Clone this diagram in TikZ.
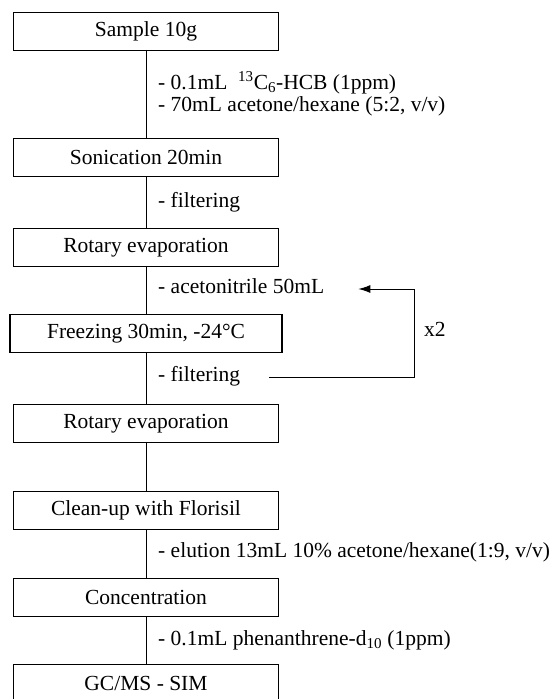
\documentclass[tikz,border=0pt]{standalone}
\usepackage{fontspec}
\setmainfont{Liberation Serif}
\usetikzlibrary{arrows.meta,positioning}

\begin{document}
\begin{tikzpicture}[x=1pt, y=-1pt, node distance=49pt,
    every node/.style={font=\fontsize{21.5}{24}\selectfont},
    stepbox/.style={draw, line width=1.1pt, minimum width=265pt, minimum height=38pt, inner sep=0pt, outer sep=0pt},
    note/.style={anchor=west, inner sep=0pt, text height=14pt, text depth=5pt},
    flow/.style={line width=1pt}]
  \useasboundingbox (0,0) rectangle (553,699);

  % steps
  \node[stepbox] (sample) at (146,31.5) {Sample 10g};
  \node[stepbox, below=88pt of sample] (sonic) {Sonication 20min};
  \node[stepbox, below=52pt of sonic] (rotary1) {Rotary evaporation};
  \node[stepbox, below=48pt of rotary1, minimum width=272pt] (freeze) {Freezing 30min, -24°C};
  \node[stepbox, below=52pt of freeze] (rotary2) {Rotary evaporation};
  \node[stepbox, below=of rotary2] (cleanup) {Clean-up with Florisil};
  \node[stepbox, below=of cleanup] (conc) {Concentration};
  \node[stepbox, below=48pt of conc] (gcms) {GC/MS - SIM};

  % additions
  \node[note] (add1) at (158,85) {- 0.1mL\ \ \textsuperscript{13}C\textsubscript{6}-HCB (1ppm)};
  \node[note] (add2) at (158,107) {- 70mL acetone/hexane (5:2, v/v)};
  \node[note] (filt1) at (158,203) {- filtering};
  \node[note] (acet) at (158,289) {- acetonitrile 50mL};
  \node[note] (filt2) at (158,377) {- filtering};
  \node[note] (elute) at (158,553) {- elution 13mL 10\% acetone/hexane(1:9, v/v)};
  \node[note] (phen) at (158,641) {- 0.1mL phenanthrene-d\textsubscript{10} (1ppm)};
  \node[note] (twice) at (424,332) {x2};

  \draw[flow] (sample) -- (sonic);
  \draw[flow] (sonic) -- (rotary1);
  \draw[flow] (rotary1) -- (freeze);
  \draw[flow] (freeze) -- (rotary2);
  \draw[flow] (rotary2) -- (cleanup);
  \draw[flow] (cleanup) -- (conc);
  \draw[flow] (conc) -- (gcms);

  % repeat loop
  \coordinate (loopx) at (414,0);
  \draw[flow, -{Latex[length=12pt,width=8pt]}] ([xshift=29pt]filt2.east) -- (filt2.east -| loopx) |- ([xshift=34pt]acet.east);
\end{tikzpicture}
\end{document}
